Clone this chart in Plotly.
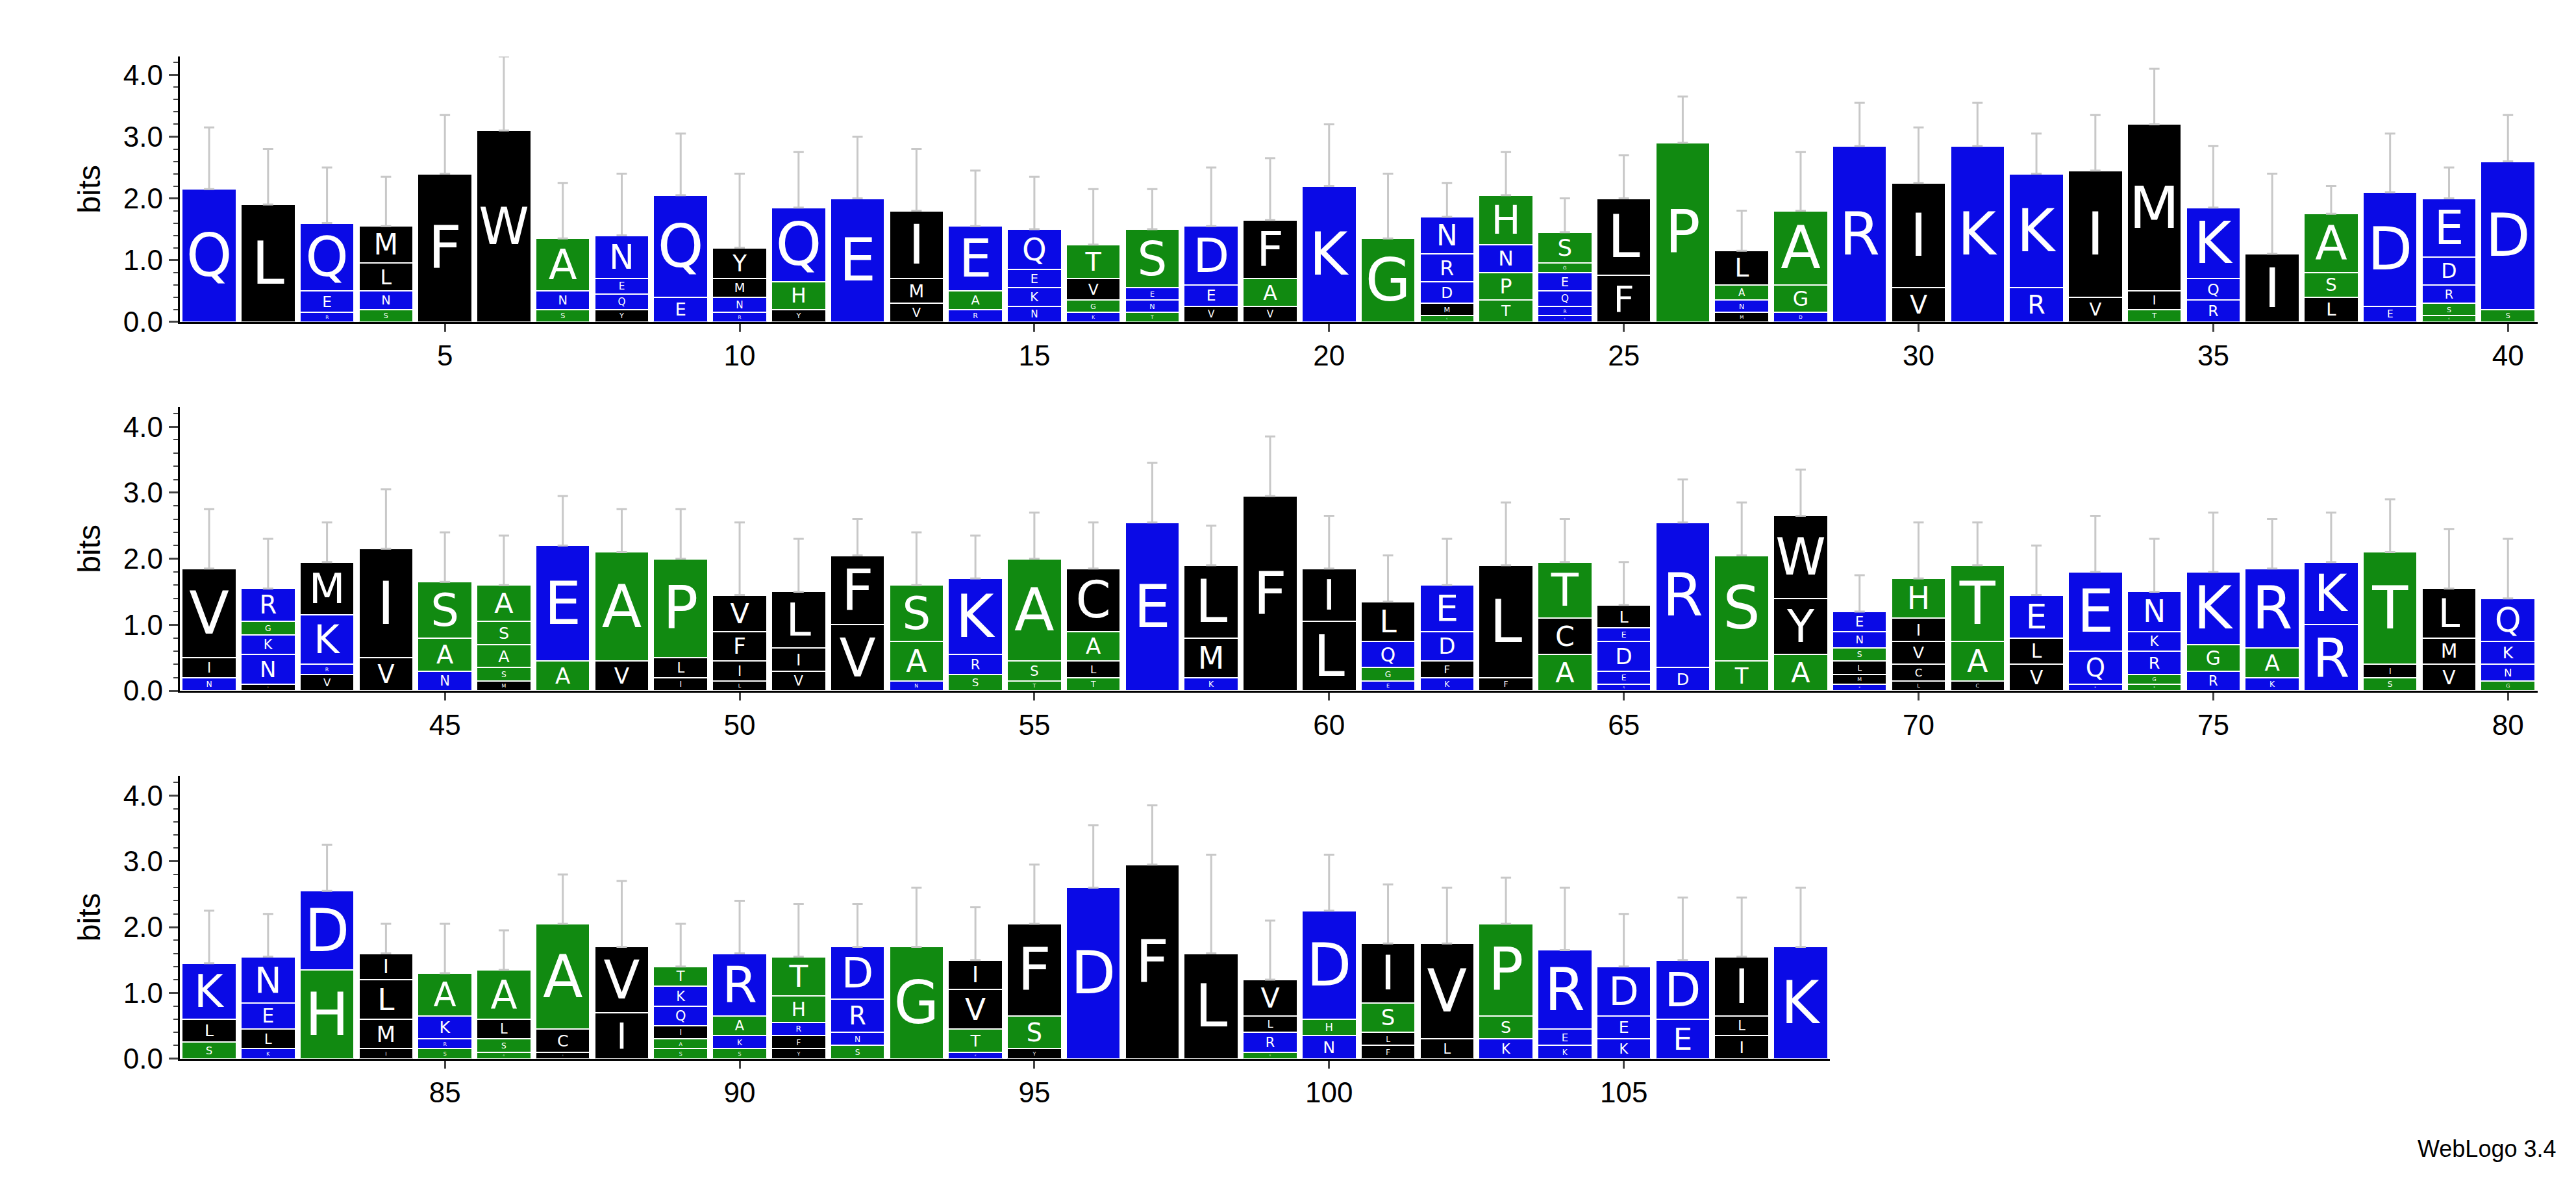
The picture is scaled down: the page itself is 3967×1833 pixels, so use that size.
import plotly.graph_objects as go

# letters per position, bottom -> top, with heights in bits
letters = ["Q", "L", "REQ", "SNLM", "F", "W", "SNA", "YQEN", "EQ", "RNMY",
           "YHQ", "E", "VMI", "RAE", "NKEQ", "KGVT", "TNES", "VED", "VAF", "K",
           "G", "SMDRN", "TPNH", "KRQEGS", "FL", "P", "MNAL", "DGA", "R", "VI",
           "K", "RK", "VI", "TIM", "RQK", "I", "LSA", "ED", "GSRDE", "SD",
           "NIV", "INKGR", "VRKM", "VI", "NAS", "MSASA", "AE", "VA", "ILP", "LIFV",
           "VIL", "VF", "NAS", "SRK", "TSA", "TLAC", "E", "KML", "F", "LI",
           "EGQL", "KFDE", "FL", "ACT", "QEDEL", "DR", "TS", "AYW", "KMLSNE", "LCVIH",
           "CAT", "VLE", "KQE", "SGRKN", "RGK", "KAR", "RK", "SIT", "VML", "GNKQ",
           "SLK", "KLEN", "HD", "IMLI", "SRKA", "GSLA", "ICA", "IV", "SAIQKT", "SKAR",
           "YFRHT", "SNRD", "G", "KTVI", "YSF", "D", "F", "L", "SRLV", "NHD",
           "FLSI", "LV", "KSP", "KER", "KED", "ED", "ILI", "K"]
heights = [[2.15], [1.9], [0.15, 0.35, 1.1], [0.2, 0.3, 0.45, 0.6], [2.4], [3.1], [0.2, 0.3, 0.85], [0.2, 0.25, 0.25, 0.7], [0.4, 1.65], [0.15, 0.25, 0.3, 0.5],
           [0.2, 0.45, 1.2], [2.0], [0.3, 0.4, 1.1], [0.2, 0.3, 1.05], [0.25, 0.3, 0.3, 0.65], [0.15, 0.2, 0.35, 0.55], [0.15, 0.2, 0.2, 0.95], [0.25, 0.35, 0.95], [0.25, 0.45, 0.95], [2.2],
           [1.35], [0.1, 0.2, 0.35, 0.45, 0.6], [0.35, 0.45, 0.45, 0.8], [0.1, 0.15, 0.25, 0.3, 0.15, 0.5], [0.75, 1.25], [2.9], [0.15, 0.2, 0.25, 0.55], [0.15, 0.45, 1.2], [2.85], [0.55, 1.7],
           [2.85], [0.55, 1.85], [0.4, 2.05], [0.2, 0.3, 2.7], [0.35, 0.35, 1.15], [1.1], [0.4, 0.4, 0.95], [0.25, 1.85], [0.1, 0.2, 0.3, 0.45, 0.95], [0.2, 2.4],
           [0.2, 0.3, 1.35], [0.1, 0.45, 0.3, 0.2, 0.5], [0.25, 0.15, 0.75, 0.8], [0.5, 1.65], [0.3, 0.5, 0.85], [0.15, 0.2, 0.35, 0.35, 0.55], [0.45, 1.75], [0.45, 1.65], [0.2, 0.3, 1.5], [0.15, 0.3, 0.45, 0.55],
           [0.3, 0.35, 0.85], [1.0, 1.05], [0.15, 0.6, 0.85], [0.25, 0.3, 1.15], [0.15, 0.3, 1.55], [0.2, 0.25, 0.45, 0.95], [2.55], [0.2, 0.6, 1.1], [2.95], [1.05, 0.8],
           [0.15, 0.2, 0.4, 0.6], [0.2, 0.25, 0.45, 0.7], [0.2, 1.7], [0.55, 0.55, 0.85], [0.1, 0.2, 0.45, 0.2, 0.35], [0.35, 2.2], [0.45, 1.6], [0.55, 0.85, 1.25], [0.1, 0.15, 0.2, 0.2, 0.25, 0.3], [0.15, 0.25, 0.35, 0.35, 0.6],
           [0.15, 0.6, 1.15], [0.4, 0.4, 0.65], [0.1, 0.5, 1.2], [0.1, 0.15, 0.35, 0.3, 0.6], [0.3, 0.4, 1.1], [0.2, 0.45, 1.2], [1.0, 0.95], [0.2, 0.2, 1.7], [0.4, 0.4, 0.75], [0.15, 0.25, 0.35, 0.65],
           [0.25, 0.35, 0.85], [0.15, 0.3, 0.4, 0.7], [1.35, 1.2], [0.15, 0.45, 0.6, 0.4], [0.15, 0.15, 0.35, 0.65], [0.1, 0.2, 0.3, 0.75], [0.1, 0.35, 1.6], [0.7, 1.0], [0.15, 0.15, 0.2, 0.3, 0.3, 0.3], [0.15, 0.2, 0.3, 0.95],
           [0.15, 0.2, 0.2, 0.4, 0.6], [0.2, 0.2, 0.5, 0.8], [1.7], [0.1, 0.35, 0.6, 0.45], [0.15, 0.5, 1.4], [2.6], [2.95], [1.6], [0.1, 0.3, 0.25, 0.55], [0.35, 0.25, 1.65],
           [0.2, 0.2, 0.45, 0.9], [0.3, 1.45], [0.3, 0.35, 1.4], [0.2, 0.25, 1.2], [0.3, 0.35, 0.75], [0.6, 0.9], [0.35, 0.3, 0.9], [1.7]]
# top of error bar (bits)
err_top = [3.15, 2.8, 2.5, 2.35, 3.35, 4.3, 2.25, 2.4, 3.05, 2.4,
           2.75, 3.0, 2.8, 2.45, 2.35, 2.15, 2.15, 2.5, 2.65, 3.2,
           2.4, 2.25, 2.75, 2.0, 2.7, 3.65, 1.8, 2.75, 3.55, 3.15,
           3.55, 3.05, 3.35, 4.1, 2.85, 2.4, 2.2, 3.05, 2.5, 3.35,
           2.75, 2.3, 2.55, 3.05, 2.4, 2.35, 2.95, 2.75, 2.75, 2.55,
           2.3, 2.6, 2.4, 2.35, 2.7, 2.55, 3.45, 2.5, 3.85, 2.65,
           2.05, 2.3, 2.85, 2.6, 1.95, 3.2, 2.85, 3.35, 1.75, 2.55,
           2.55, 2.2, 2.65, 2.3, 2.7, 2.6, 2.7, 2.9, 2.45, 2.3,
           2.25, 2.2, 3.25, 2.05, 2.05, 1.95, 2.8, 2.7, 2.05, 2.4,
           2.35, 2.35, 2.6, 2.3, 2.95, 3.55, 3.85, 3.1, 2.1, 3.1,
           2.65, 2.6, 2.75, 2.6, 2.2, 2.45, 2.45, 2.6]

BLUE, GREEN, BLACK = "#0a0ae6", "#118a11", "#000000"
color_of = {}
for c in "LFWIMVYC":
    color_of[c] = BLACK
for c in "KRDEQN":
    color_of[c] = BLUE
for c in "ASTGHP":
    color_of[c] = GREEN

fig = go.Figure()
row_ranges = [(1, 40), (41, 80), (81, 108)]
ydomains = [[0.728, 0.956], [0.411, 0.655], [0.095, 0.338]]
x0, x1 = 0.068, 0.987
unit = (x1 - x0) / 40

for r, (a, b) in enumerate(row_ranges):
    xa = "x" if r == 0 else f"x{r+1}"
    ya = "y" if r == 0 else f"y{r+1}"
    pos = list(range(a, b + 1))
    nlayer = max(len(letters[p - 1]) for p in pos)
    for k in range(nlayer):
        xs, ys, ts, cs = [], [], [], []
        for p in pos:
            s = letters[p - 1]
            if k < len(s):
                xs.append(p)
                ys.append(heights[p - 1][k])
                ts.append(s[k])
                cs.append(color_of[s[k]])
        fig.add_trace(go.Bar(x=xs, y=ys, text=ts, marker=dict(color=cs, line=dict(width=2, color="white")),
                             textposition="inside", insidetextanchor="middle", textangle=0,
                             textfont=dict(color="white", size=90, family="DejaVu Sans"),
                             width=0.92, xaxis=xa, yaxis=ya, showlegend=False))
    tops = [sum(heights[p - 1]) for p in pos]
    fig.add_trace(go.Scatter(x=pos, y=tops, mode="markers", marker=dict(size=1, color="rgba(0,0,0,0)"),
                             error_y=dict(type="data", symmetric=False,
                                          array=[err_top[p - 1] - t for p, t in zip(pos, tops)],
                                          arrayminus=[0] * len(pos), color="#c8c8c8", thickness=3, width=8),
                             xaxis=xa, yaxis=ya, showlegend=False))
    n = b - a + 1
    axis_x = dict(domain=[x0, x0 + unit * n], range=[a - 0.5, b + 0.5], anchor=ya,
                  tickvals=[v for v in pos if v % 5 == 0], ticks="outside", ticklen=12, tickwidth=3,
                  showline=True, linecolor="black", linewidth=3, showgrid=False, zeroline=False,
                  tickfont=dict(size=44))
    axis_y = dict(domain=ydomains[r], range=[0, 4.3], anchor=xa, tickvals=[0, 1, 2, 3, 4],
                  ticktext=["0.0", "1.0", "2.0", "3.0", "4.0"], ticks="outside", ticklen=14, tickwidth=3,
                  minor=dict(dtick=0.2, ticks="outside", ticklen=7, tickwidth=2),
                  showline=True, linecolor="black", linewidth=3, showgrid=False, zeroline=False,
                  tickfont=dict(size=44), title=dict(text="bits", font=dict(size=48), standoff=20))
    fig.layout["xaxis" if r == 0 else f"xaxis{r+1}"] = axis_x
    fig.layout["yaxis" if r == 0 else f"yaxis{r+1}"] = axis_y

fig.add_annotation(text="WebLogo 3.4", xref="paper", yref="paper", x=0.995, y=0.005,
                   xanchor="right", yanchor="bottom", showarrow=False, font=dict(size=36))
fig.update_layout(barmode="stack", bargap=0.05, plot_bgcolor="white", paper_bgcolor="white",
                  margin=dict(l=0, r=0, t=0, b=0), font=dict(family="Liberation Sans", color="black"))
fig.write_html("out.html")
